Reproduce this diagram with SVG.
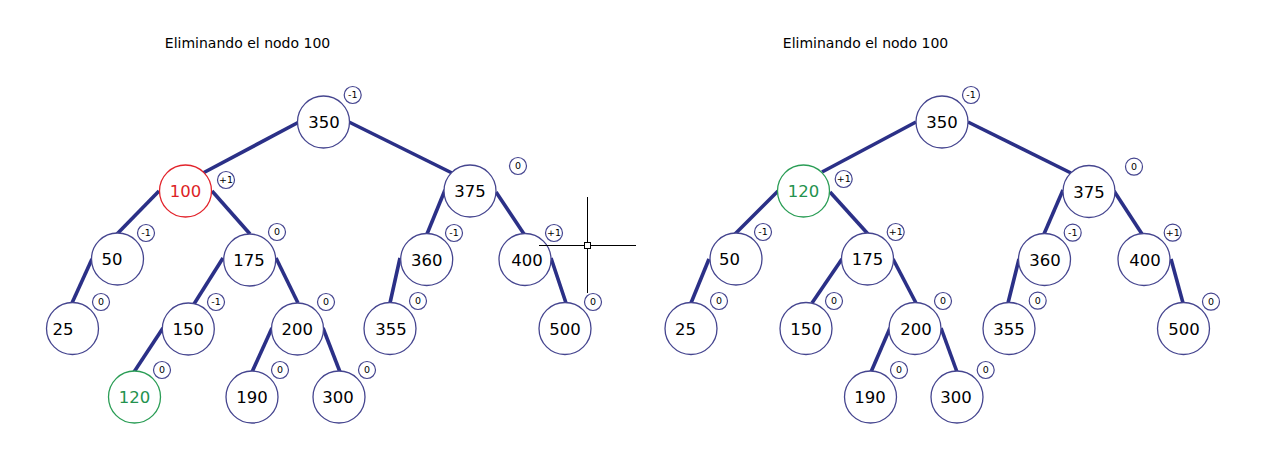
<svg xmlns="http://www.w3.org/2000/svg" width="1284" height="473" viewBox="0 0 1284 473">
<style>
.n{fill:#fff;stroke:#45458f;stroke-width:1.3}
.nr{fill:#fff;stroke:#e2232b;stroke-width:1.3}
.ng{fill:#fff;stroke:#2a9d55;stroke-width:1.3}
.t{font-family:"DejaVu Sans",Verdana,sans-serif;font-size:16.5px;fill:#000;text-anchor:middle}
.tr{fill:#dd1f26}
.tg{fill:#23924e}
.b{fill:#fff;stroke:#45458f;stroke-width:1.2}
.bt{font-family:"DejaVu Sans",Verdana,sans-serif;font-size:9.5px;fill:#000;text-anchor:middle}
.title{font-family:"DejaVu Sans",Verdana,sans-serif;font-size:14px;fill:#000;text-anchor:middle}
.e{stroke:#2b3087;stroke-width:3.6;stroke-linecap:butt;fill:none}
.x{stroke:#000;stroke-width:1;fill:none}
</style>
<rect width="1284" height="473" fill="#fff"/>
<text class="title" x="247.5" y="47.7">Eliminando el nodo 100</text>
<text class="title" x="865.5" y="47.7">Eliminando el nodo 100</text>
<g id="connectors">
<line class="e" x1="299" y1="122" x2="203" y2="173"/>
<line class="e" x1="349" y1="122" x2="452" y2="173"/>
<line class="e" x1="159" y1="191" x2="117" y2="234"/>
<line class="e" x1="212" y1="191" x2="250" y2="234"/>
<line class="e" x1="92" y1="259" x2="72" y2="303"/>
<line class="e" x1="223" y1="258" x2="194" y2="304"/>
<line class="e" x1="276" y1="258" x2="298" y2="303"/>
<line class="e" x1="163" y1="328" x2="134" y2="372"/>
<line class="e" x1="272" y1="328" x2="252" y2="372"/>
<line class="e" x1="323" y1="328" x2="340" y2="372"/>
<line class="e" x1="445" y1="190" x2="427" y2="234"/>
<line class="e" x1="496" y1="192" x2="524" y2="234"/>
<line class="e" x1="400" y1="258" x2="390" y2="303"/>
<line class="e" x1="551" y1="258" x2="566" y2="303"/>
<line class="e" x1="916" y1="122" x2="822" y2="172"/>
<line class="e" x1="968" y1="122" x2="1071" y2="173"/>
<line class="e" x1="778" y1="191" x2="735" y2="234"/>
<line class="e" x1="830" y1="192" x2="868" y2="234"/>
<line class="e" x1="709" y1="259" x2="691" y2="303"/>
<line class="e" x1="842" y1="259" x2="812" y2="303"/>
<line class="e" x1="893" y1="259" x2="916" y2="303"/>
<line class="e" x1="890" y1="328" x2="871" y2="372"/>
<line class="e" x1="941" y1="328" x2="957" y2="372"/>
<line class="e" x1="1063" y1="190" x2="1044" y2="234"/>
<line class="e" x1="1114" y1="191" x2="1142" y2="234"/>
<line class="e" x1="1019" y1="259" x2="1008" y2="303"/>
<line class="e" x1="1171" y1="259" x2="1183" y2="303"/>
</g>
<g id="L350"><circle class="n" cx="323.5" cy="122" r="26"/><text class="t" x="324" y="128">350</text><circle class="b" cx="352.7" cy="95" r="8.5"/><text class="bt" x="352.7" y="98.4">-1</text></g>
<g id="L100"><circle class="nr" cx="185.5" cy="191" r="26"/><text class="t tr" x="185.5" y="197">100</text><circle class="b" cx="226" cy="180" r="8.5"/><text class="bt" x="226" y="183.4">+1</text></g>
<g id="L375"><circle class="n" cx="470" cy="191" r="26"/><text class="t" x="470" y="197">375</text><circle class="b" cx="518" cy="166" r="8.5"/><text class="bt" x="518" y="169.4">0</text></g>
<g id="L50"><circle class="n" cx="117.5" cy="259" r="26"/><text class="t" x="112" y="265">50</text><circle class="b" cx="146" cy="233" r="8.5"/><text class="bt" x="146" y="236.4">-1</text></g>
<g id="L175"><circle class="n" cx="249.7" cy="260" r="26"/><text class="t" x="249" y="266">175</text><circle class="b" cx="277" cy="232" r="8.5"/><text class="bt" x="277" y="235.4">0</text></g>
<g id="L360"><circle class="n" cx="426.7" cy="259.5" r="26"/><text class="t" x="426.7" y="265.5">360</text><circle class="b" cx="454" cy="233" r="8.5"/><text class="bt" x="454" y="236.4">-1</text></g>
<g id="L400"><circle class="n" cx="525" cy="259.5" r="26"/><text class="t" x="527" y="265.5">400</text><circle class="b" cx="554" cy="233" r="8.5"/><text class="bt" x="554" y="236.4">+1</text></g>
<g id="L25"><circle class="n" cx="72.5" cy="328.5" r="26"/><text class="t" x="63" y="334.5">25</text><circle class="b" cx="101" cy="302" r="8.5"/><text class="bt" x="101" y="305.4">0</text></g>
<g id="L150"><circle class="n" cx="188.3" cy="329" r="26"/><text class="t" x="188.3" y="335">150</text><circle class="b" cx="216" cy="302" r="8.5"/><text class="bt" x="216" y="305.4">-1</text></g>
<g id="L200"><circle class="n" cx="297.5" cy="329" r="26"/><text class="t" x="297.3" y="335">200</text><circle class="b" cx="326" cy="302" r="8.5"/><text class="bt" x="326" y="305.4">0</text></g>
<g id="L355"><circle class="n" cx="390" cy="328.5" r="26"/><text class="t" x="391" y="334.5">355</text><circle class="b" cx="418" cy="301" r="8.5"/><text class="bt" x="418" y="304.4">0</text></g>
<g id="L500"><circle class="n" cx="565" cy="328.5" r="26"/><text class="t" x="565" y="334.5">500</text><circle class="b" cx="593" cy="302" r="8.5"/><text class="bt" x="593" y="305.4">0</text></g>
<g id="L120"><circle class="ng" cx="134.5" cy="397" r="26"/><text class="t tg" x="134.5" y="403">120</text><circle class="b" cx="162" cy="370" r="8.5"/><text class="bt" x="162" y="373.4">0</text></g>
<g id="L190"><circle class="n" cx="252" cy="397" r="26"/><text class="t" x="252" y="403">190</text><circle class="b" cx="280" cy="370" r="8.5"/><text class="bt" x="280" y="373.4">0</text></g>
<g id="L300"><circle class="n" cx="339" cy="397" r="26"/><text class="t" x="338" y="403">300</text><circle class="b" cx="367" cy="370" r="8.5"/><text class="bt" x="367" y="373.4">0</text></g>
<g id="R350"><circle class="n" cx="942" cy="122" r="26"/><text class="t" x="942" y="128">350</text><circle class="b" cx="971" cy="95" r="8.5"/><text class="bt" x="971" y="98.4">-1</text></g>
<g id="R120"><circle class="ng" cx="803.5" cy="191" r="26"/><text class="t tg" x="803.5" y="197">120</text><circle class="b" cx="843.7" cy="179" r="8.5"/><text class="bt" x="843.7" y="182.4">+1</text></g>
<g id="R375"><circle class="n" cx="1089" cy="191.5" r="26"/><text class="t" x="1089" y="197.5">375</text><circle class="b" cx="1134" cy="166.7" r="8.5"/><text class="bt" x="1134" y="170.1">0</text></g>
<g id="R50"><circle class="n" cx="736" cy="259" r="26"/><text class="t" x="729.5" y="265">50</text><circle class="b" cx="763" cy="232" r="8.5"/><text class="bt" x="763" y="235.4">-1</text></g>
<g id="R175"><circle class="n" cx="867.5" cy="259" r="26"/><text class="t" x="867.5" y="265">175</text><circle class="b" cx="895.7" cy="232" r="8.5"/><text class="bt" x="895.7" y="235.4">+1</text></g>
<g id="R360"><circle class="n" cx="1044.5" cy="259.5" r="26"/><text class="t" x="1045" y="265.5">360</text><circle class="b" cx="1072.7" cy="232.7" r="8.5"/><text class="bt" x="1072.7" y="236.1">-1</text></g>
<g id="R400"><circle class="n" cx="1144" cy="259.5" r="26"/><text class="t" x="1145" y="265.5">400</text><circle class="b" cx="1172.7" cy="232.7" r="8.5"/><text class="bt" x="1172.7" y="236.1">+1</text></g>
<g id="R25"><circle class="n" cx="691" cy="328.5" r="26"/><text class="t" x="685.5" y="334.5">25</text><circle class="b" cx="719" cy="301" r="8.5"/><text class="bt" x="719" y="304.4">0</text></g>
<g id="R150"><circle class="n" cx="806" cy="328.5" r="26"/><text class="t" x="806" y="334.5">150</text><circle class="b" cx="834" cy="301" r="8.5"/><text class="bt" x="834" y="304.4">0</text></g>
<g id="R200"><circle class="n" cx="915" cy="328.5" r="26"/><text class="t" x="916" y="334.5">200</text><circle class="b" cx="943" cy="301" r="8.5"/><text class="bt" x="943" y="304.4">0</text></g>
<g id="R355"><circle class="n" cx="1009" cy="328.5" r="26"/><text class="t" x="1009" y="334.5">355</text><circle class="b" cx="1037.7" cy="300.7" r="8.5"/><text class="bt" x="1037.7" y="304.1">0</text></g>
<g id="R500"><circle class="n" cx="1183.5" cy="328.5" r="26"/><text class="t" x="1184" y="334.5">500</text><circle class="b" cx="1211" cy="301.7" r="8.5"/><text class="bt" x="1211" y="305.1">0</text></g>
<g id="R190"><circle class="n" cx="870.5" cy="397" r="26"/><text class="t" x="870" y="403">190</text><circle class="b" cx="899" cy="370" r="8.5"/><text class="bt" x="899" y="373.4">0</text></g>
<g id="R300"><circle class="n" cx="957" cy="397" r="26"/><text class="t" x="956" y="403">300</text><circle class="b" cx="985.7" cy="370" r="8.5"/><text class="bt" x="985.7" y="373.4">0</text></g>
<g id="crosshair">
<line class="x" x1="587.5" y1="197" x2="587.5" y2="293"/>
<line class="x" x1="539" y1="245.5" x2="636" y2="245.5"/>
<rect x="584.5" y="242.5" width="6" height="6" fill="#fff" stroke="#000" stroke-width="1"/>
</g>
</svg>
